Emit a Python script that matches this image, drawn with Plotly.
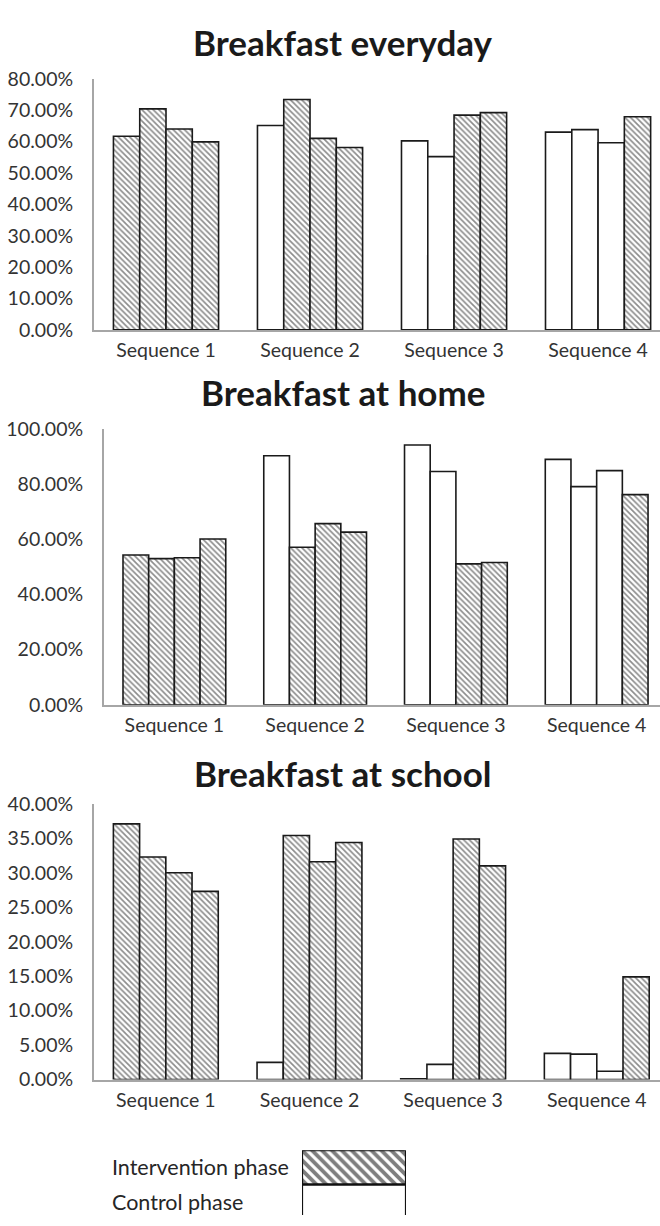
import plotly.graph_objects as go

W, H = 660, 1226

SEQUENCES = ["Sequence 1", "Sequence 2", "Sequence 3", "Sequence 4"]
PERIODS = ["Period 1", "Period 2", "Period 3", "Period 4"]

# phase of each bar: rows = sequences, columns = periods (I = intervention, C = control)
PHASE = [
    ["I", "I", "I", "I"],
    ["C", "I", "I", "I"],
    ["C", "C", "I", "I"],
    ["C", "C", "C", "I"],
]

# rows = sequences, columns = periods (fractions)
EVERYDAY = [
    [0.617, 0.704, 0.640, 0.599],
    [0.651, 0.734, 0.610, 0.581],
    [0.602, 0.552, 0.684, 0.692],
    [0.630, 0.638, 0.596, 0.679],
]
AT_HOME = [
    [0.543, 0.530, 0.533, 0.601],
    [0.903, 0.571, 0.657, 0.626],
    [0.942, 0.846, 0.511, 0.516],
    [0.890, 0.791, 0.849, 0.762],
]
AT_SCHOOL = [
    [0.371, 0.323, 0.300, 0.273],
    [0.025, 0.354, 0.316, 0.344],
    [0.001, 0.022, 0.349, 0.310],
    [0.038, 0.037, 0.012, 0.149],
]

TITLES = ["Breakfast everyday", "Breakfast at home", "Breakfast at school"]
Y_MAX = [0.8, 1.0, 0.4]
Y_DTICK = [0.1, 0.2, 0.05]

LEGEND_LABELS = ["Intervention phase", "Control phase"]
LEGEND_PHASE = ["I", "C"]

# layout geometry (pixels)
PANELS = [
    dict(x0=94, xr=3.43, y0=324, y1=68, ty=31),
    dict(x0=104, xr=3.45, y0=706, y1=425, ty=387),
    dict(x0=94, xr=3.44, y0=1088, y1=807, ty=776),
]

TICK_FONT = dict(family="Lato", size=19.5, color="#333333")
AXIS_COLOR = "#a6a6a6"


def pat(ph):
    return "\\" if ph == "I" else ""


fig = go.Figure()
datasets = [EVERYDAY, AT_HOME, AT_SCHOOL]

for k, (data, pan) in enumerate(zip(datasets, PANELS)):
    xa = "x" if k == 0 else f"x{k+1}"
    ya = "y" if k == 0 else f"y{k+1}"
    for p in range(4):
        fig.add_trace(go.Bar(
            x=SEQUENCES,
            y=[data[s][p] for s in range(4)],
            name=PERIODS[p],
            xaxis=xa, yaxis=ya,
            offsetgroup=str(p),
            showlegend=False,
            marker=dict(
                color="white",
                line=dict(color="#1a1a1a", width=1.6),
                pattern=dict(
                    shape=[pat(PHASE[s][p]) for s in range(4)],
                    fgcolor="#1a1a1a",
                    bgcolor="white",
                    size=4,
                    solidity=0.42,
                ),
            ),
        ))
    xkey = "xaxis" if k == 0 else f"xaxis{k+1}"
    ykey = "yaxis" if k == 0 else f"yaxis{k+1}"
    fig.layout[xkey] = dict(
        domain=[pan["x0"] / W, 1.0],
        range=[-0.5, pan["xr"]],
        anchor=ya,
        showline=True, linecolor=AXIS_COLOR, linewidth=2,
        showgrid=False, zeroline=False, ticks="",
        tickfont=TICK_FONT, ticklabelstandoff=2,
        fixedrange=True,
    )
    fig.layout[ykey] = dict(
        domain=[1 - pan["y0"] / H, 1 - pan["y1"] / H],
        range=[0, Y_MAX[k]],
        anchor=xa,
        tickmode="linear", tick0=0, dtick=Y_DTICK[k],
        tickformat=".2%",
        showline=True, linecolor=AXIS_COLOR, linewidth=2,
        showgrid=False, zeroline=False, ticks="",
        tickfont=TICK_FONT, ticklabelstandoff=15,
        fixedrange=True,
    )
    fig.add_annotation(
        text=f"<b>{TITLES[k]}</b>",
        x=343 / W, y=1 - pan["ty"] / H, xref="paper", yref="paper",
        xanchor="center", yanchor="middle", showarrow=False,
        font=dict(family="Lato", size=35, color="#1a1a1a"),
    )

# legend drawn as a small horizontal bar panel
fig.add_trace(go.Bar(
    y=LEGEND_LABELS,
    x=[1, 1],
    width=[1, 1],
    orientation="h",
    xaxis="x4", yaxis="y4",
    showlegend=False,
    marker=dict(
        color="white",
        line=dict(color="#111111", width=2.2),
        pattern=dict(
            shape=[pat(ph) for ph in LEGEND_PHASE],
            fgcolor="#000000",
            bgcolor="white",
            size=7,
            solidity=0.55,
        ),
    ),
))
fig.layout["xaxis4"] = dict(domain=[302 / W, 406 / W], range=[0, 1], visible=False,
                             anchor="y4", fixedrange=True)
fig.layout["yaxis4"] = dict(domain=[0, 1 - 1160 / H], type="category",
                             categoryorder="array", categoryarray=LEGEND_LABELS[::-1],
                             range=[-0.386, 1.5], anchor="x4",
                             showline=False, showgrid=False, zeroline=False, ticks="",
                             showticklabels=False, fixedrange=True)
for lab in LEGEND_LABELS:
    fig.add_annotation(
        text=lab, x=110 / W, xref="paper", y=lab, yref="y4",
        xanchor="left", yanchor="middle", showarrow=False,
        font=dict(family="Lato", size=21.5, color="#262626"),
    )

fig.update_layout(
    width=W, height=H,
    margin=dict(l=0, r=0, t=0, b=0),
    paper_bgcolor="white", plot_bgcolor="white",
    barmode="group", bargap=0.27, bargroupgap=0,
    showlegend=False,
)

fig.write_html("out.html", config={"displayModeBar": False},
               post_script="document.body.style.margin='0px';")
